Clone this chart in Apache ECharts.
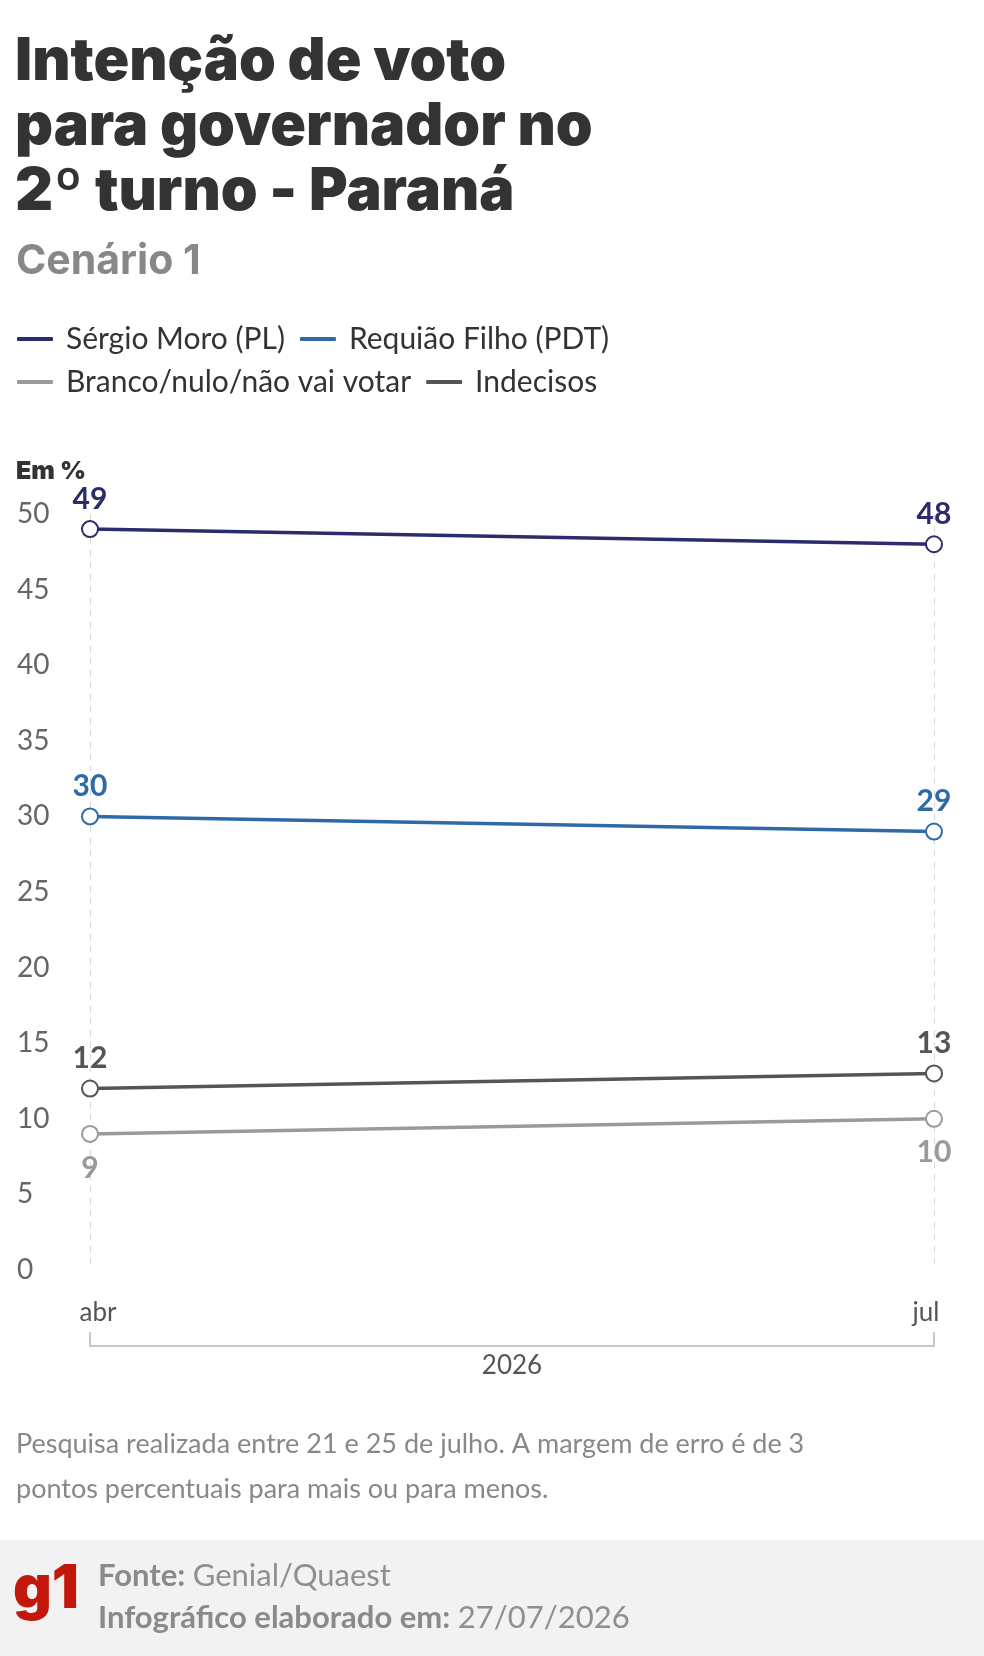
<!DOCTYPE html>
<html>
<head>
<meta charset="utf-8">
<script src="https://cdn.jsdelivr.net/npm/echarts@6/dist/echarts.min.js"></script>
<style>
html,body{margin:0;padding:0;background:#fff;}
#c{width:984px;height:1656px;}
</style>
</head>
<body>
<div id="c"></div>
<script>
const categories = ['abr', 'jul'];
const yearLabel = '2026';
const seriesNames = ['Sérgio Moro (PL)', 'Requião Filho (PDT)', 'Branco/nulo/não vai votar', 'Indecisos'];
const moro = [49, 48];
const requiao = [30, 29];
const branco = [9, 10];
const indecisos = [12, 13];
const colors = ['#2c2c6c', '#2f6aa8', '#9a9a9a', '#555555'];
const yMin = 0, yMax = 50, yInterval = 5;

const FONT = 'Lato, "Noto Sans", sans-serif';
const HFONT = 'Inter, Lato, sans-serif';
const chart = echarts.init(document.getElementById('c'), null, {renderer: 'canvas'});

function mkSeries(name, data, color, below) {
  return {
    name: name,
    type: 'line',
    data: data,
    symbol: 'emptyCircle',
    symbolSize: 16,
    showSymbol: true,
    lineStyle: {color: color, width: 3.5},
    itemStyle: {color: color, borderColor: color, borderWidth: 3},
    emphasis: {disabled: true},
    label: {
      show: true,
      position: below ? 'bottom' : 'top',
      distance: below ? 10 : 6,
      color: color,
      fontFamily: FONT,
      fontWeight: 'bold',
      fontSize: 30
    },
    z: 3
  };
}

const option = {
  backgroundColor: '#ffffff',
  animation: false,
  textStyle: {fontFamily: FONT},
  title: [
    {
      text: 'Intenção de voto\npara governador no\n2º turno - Paraná',
      left: 15, top: 30, padding: 0,
      textStyle: {fontFamily: HFONT, fontSize: 59, fontWeight: 900, color: '#333333', lineHeight: 65}
    },
    {
      text: 'Cenário 1',
      left: 16, top: 239, padding: 0,
      textStyle: {fontFamily: HFONT, fontSize: 41, fontWeight: 'bold', color: '#888888', lineHeight: 46}
    },
    {
      text: 'Em %',
      left: 16, top: 456, padding: 0,
      textStyle: {fontFamily: HFONT, fontSize: 25, fontWeight: 900, color: '#333333', lineHeight: 30}
    },
    {
      text: 'Pesquisa realizada entre 21 e 25 de julho. A margem de erro é de 3\npontos percentuais para mais ou para menos.',
      left: 16, top: 1422, padding: 0,
      textStyle: {fontFamily: FONT, fontSize: 27, fontWeight: 'normal', color: '#888888', lineHeight: 45}
    }
  ],
  legend: [
    {
      data: [{name: seriesNames[0], itemStyle: {color: colors[0]}}, {name: seriesNames[1], itemStyle: {color: colors[1]}}],
      left: 17, top: 322, padding: 0, itemGap: 15,
      icon: 'roundRect', itemWidth: 36, itemHeight: 4,
      itemStyle: {borderWidth: 0},
      lineStyle: {width: 0},
      selectedMode: false,
      textStyle: {fontFamily: FONT, fontSize: 30, color: '#333333', lineHeight: 34, padding: [0, 0, 0, 8]}
    },
    {
      data: [{name: seriesNames[2], itemStyle: {color: colors[2]}}, {name: seriesNames[3], itemStyle: {color: colors[3]}}],
      left: 17, top: 365, padding: 0, itemGap: 15,
      icon: 'roundRect', itemWidth: 36, itemHeight: 4,
      itemStyle: {borderWidth: 0},
      lineStyle: {width: 0},
      selectedMode: false,
      textStyle: {fontFamily: FONT, fontSize: 30, color: '#333333', lineHeight: 34, padding: [0, 0, 0, 8]}
    }
  ],
  grid: {left: 90, right: 50, top: 514, bottom: 386, containLabel: false},
  xAxis: {
    type: 'category',
    data: categories,
    boundaryGap: false,
    axisLine: {show: false},
    axisTick: {show: false},
    axisLabel: {
      fontFamily: FONT, fontSize: 26, color: '#555555', margin: 30,
      formatter: function (v, i) { return i === 0 ? '{a|' + v + '}' : '{b|' + v + '}'; },
      rich: {
        a: {fontFamily: FONT, fontSize: 26, color: '#555555', padding: [0, 0, 0, 16]},
        b: {fontFamily: FONT, fontSize: 26, color: '#555555', padding: [0, 16, 0, 0]}
      }
    },
    splitLine: {show: true, lineStyle: {color: '#d8d8d8', type: [6, 6], width: 1}}
  },
  yAxis: {
    type: 'value',
    min: yMin, max: yMax, interval: yInterval,
    axisLine: {show: false},
    axisTick: {show: false},
    splitLine: {show: false},
    axisLabel: {fontFamily: FONT, fontSize: 28, color: '#666666', align: 'left', margin: 73}
  },
  series: [
    mkSeries(seriesNames[0], moro, colors[0], false),
    mkSeries(seriesNames[1], requiao, colors[1], false),
    mkSeries(seriesNames[2], branco, colors[2], true),
    mkSeries(seriesNames[3], indecisos, colors[3], false)
  ]
};
chart.setOption(option);

// bracket under x axis computed from the axis scale
const x0 = chart.convertToPixel({xAxisIndex: 0}, categories[0]);
const x1 = chart.convertToPixel({xAxisIndex: 0}, categories[categories.length - 1]);
const yBr = 1346, yTop = 1332;
chart.setOption({
  graphic: [
    {type: 'polyline', shape: {points: [[x0, yTop], [x0, yBr], [x1, yBr], [x1, yTop]]},
     style: {stroke: '#c8c8c8', lineWidth: 2, fill: null}},
    {type: 'text', x: (x0 + x1) / 2, y: 1366,
     style: {text: yearLabel, font: '26px ' + FONT, fill: '#555555', align: 'center', verticalAlign: 'middle'}},
    {type: 'rect', shape: {x: 0, y: 1540, width: 984, height: 116}, style: {fill: '#f2f2f2'}, z: -1},
    {type: 'text', x: 13, y: 1590,
     style: {text: 'g1', font: '900 60px ' + HFONT, fill: '#c4170c', verticalAlign: 'middle'}},
    {type: 'text', x: 98, y: 1576,
     style: {rich: {b: {fontFamily: FONT, fontSize: 31, fontWeight: 'bold', fill: '#8a8a8a'},
                    n: {fontFamily: FONT, fontSize: 31, fontWeight: 'normal', fill: '#8f8f8f'}},
             text: '{b|Fonte: }{n|Genial/Quaest}', verticalAlign: 'middle'}},
    {type: 'text', x: 98, y: 1618,
     style: {rich: {b: {fontFamily: FONT, fontSize: 31, fontWeight: 'bold', fill: '#8a8a8a'},
                    n: {fontFamily: FONT, fontSize: 31, fontWeight: 'normal', fill: '#8f8f8f'}},
             text: '{b|Infográfico elaborado em: }{n|27/07/2026}', verticalAlign: 'middle'}}
  ]
});
</script>
</body>
</html>
